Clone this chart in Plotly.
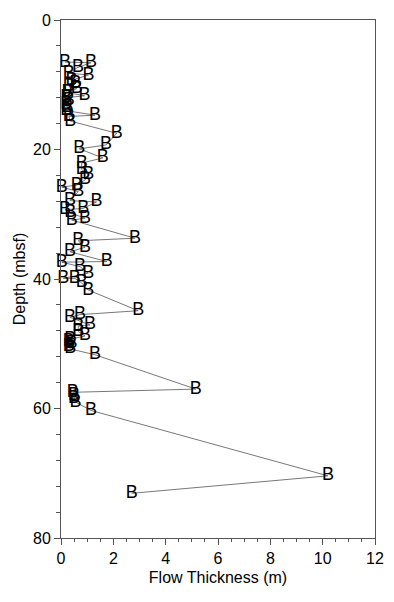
import plotly.graph_objects as go

# Depth (mbsf) and flow thickness (m), ordered by depth
depth = [6.5, 6.6, 7.3, 8.2, 8.5, 9.3, 9.8, 10.3, 10.6, 11.2, 11.7, 12.0, 12.5, 13.0,
         13.5, 14.0, 14.7, 14.9, 15.6, 17.5, 19.3, 19.9, 21.3, 22.1, 23.1, 23.9, 24.7,
         25.5, 25.8, 26.5, 27.9, 28.1, 29.1, 29.3, 29.8, 30.6, 30.9, 33.7, 34.1, 35.1,
         35.8, 37.3, 37.4, 38.1, 39.1, 39.9, 39.9, 40.6, 41.7, 44.9, 45.5, 45.9, 47.1,
         47.3, 48.1, 48.8, 49.3, 49.7, 50.0, 50.4, 50.8, 51.7, 57.0, 57.5, 58.0, 58.5,
         59.0, 60.3, 70.4, 73.1]
thickness = [0.15, 1.15, 0.65, 0.3, 1.05, 0.4, 0.55, 0.3, 0.6, 0.25, 0.9, 0.2, 0.3, 0.2,
             0.25, 0.2, 1.3, 0.3, 0.35, 2.13, 1.72, 0.7, 1.6, 0.79, 0.79, 1.04, 0.92,
             0.6, 0.03, 0.66, 0.34, 1.36, 0.85, 0.15, 0.35, 0.92, 0.41, 2.83, 0.66, 0.92,
             0.34, 1.75, 0.03, 0.73, 1.04, 0.09, 0.53, 0.79, 1.04, 2.95, 0.73, 0.34, 1.11,
             0.66, 0.66, 0.92, 0.35, 0.3, 0.4, 0.3, 0.35, 1.3, 5.15, 0.45, 0.5, 0.5,
             0.55, 1.15, 10.2, 2.7]

x_title = "Flow Thickness (m)"
y_title = "Depth (mbsf)"
marker_label = "B"

FONT = "Liberation Sans, Arial, Helvetica, sans-serif"

fig = go.Figure()
fig.add_trace(go.Scatter(
    x=thickness, y=depth,
    mode="lines+text",
    text=[marker_label] * len(depth),
    textposition="middle center",
    textfont=dict(family=FONT, size=18, color="black"),
    line=dict(color="#555555", width=0.8),
    cliponaxis=False,
    showlegend=False,
    hoverinfo="x+y",
))

axis_common = dict(
    showgrid=False, zeroline=False, automargin=False,
    showline=True, linecolor="#555555", linewidth=1, mirror=True,
    ticks="outside", ticklen=6, tickcolor="#555555", tickwidth=1,
    tickfont=dict(family=FONT, size=16, color="black"),
)

# page body has an 8px default margin, so the figure is sized/offset to compensate
fig.update_layout(
    width=386, height=594,
    margin=dict(l=53, r=19, t=12, b=64),
    paper_bgcolor="white", plot_bgcolor="white",
    font=dict(family=FONT, size=16, color="black"),
    xaxis=dict(range=[0, 12], dtick=2, tick0=0,
               title=dict(text=x_title, font=dict(family=FONT, size=16), standoff=5),
               minor=dict(dtick=0.5, ticks="outside", ticklen=3, tickcolor="#555555"),
               **axis_common),
    yaxis=dict(range=[80, 0], dtick=20, tick0=0,
               title=dict(text=y_title, font=dict(family=FONT, size=16), standoff=3),
               minor=dict(dtick=4, ticks="outside", ticklen=4, tickcolor="#555555"),
               **axis_common),
)

fig.write_html("out.html")
